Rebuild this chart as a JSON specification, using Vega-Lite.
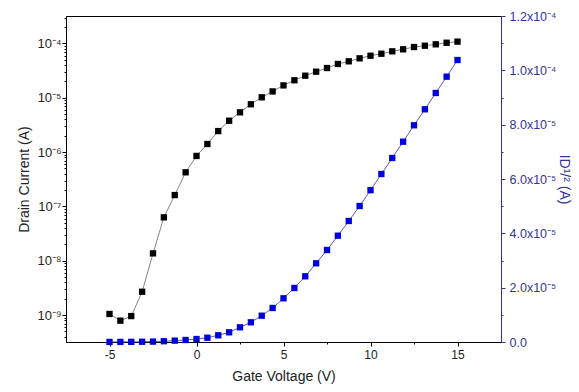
{
  "$schema": "https://vega.github.io/schema/vega-lite/v6.json",
  "width": 435,
  "height": 326,
  "autosize": {"type": "none"},
  "padding": {"left": 66, "top": 16, "right": 78, "bottom": 50},
  "background": "white",
  "config": {
    "view": {"stroke": "#000", "strokeWidth": 1},
    "font": "Liberation Sans",
    "axis": {"grid": false, "ticks": true, "tickWidth": 1, "labelFont": "Liberation Sans", "titleFont": "Liberation Sans", "titleFontWeight": "normal", "labelFontSize": 12, "titleFontSize": 14, "labelColor": "#222", "titleColor": "#222", "tickColor": "#000", "domainColor": "#000"}
  },
  "data": {"values": [
    {"V": -5, "Id": 1.05e-9, "Is": 2e-8},
    {"V": -4.375, "Id": 7.9e-10, "Is": 3e-8},
    {"V": -3.75, "Id": 9.6e-10, "Is": 5e-8},
    {"V": -3.125, "Id": 2.69e-9, "Is": 9e-8},
    {"V": -2.5, "Id": 1.37e-8, "Is": 1.5e-7},
    {"V": -1.875, "Id": 6.3e-8, "Is": 2.8e-7},
    {"V": -1.25, "Id": 1.62e-7, "Is": 5e-7},
    {"V": -0.625, "Id": 4.25e-7, "Is": 7.4e-7},
    {"V": 0, "Id": 8.5e-7, "Is": 1.1e-6},
    {"V": 0.625, "Id": 1.41e-6, "Is": 1.58e-6},
    {"V": 1.25, "Id": 2.44e-6, "Is": 2.47e-6},
    {"V": 1.875, "Id": 3.78e-6, "Is": 3.57e-6},
    {"V": 2.5, "Id": 5.4e-6, "Is": 5.41e-6},
    {"V": 3.125, "Id": 7.6e-6, "Is": 7.25e-6},
    {"V": 3.75, "Id": 1.02e-5, "Is": 9.68e-6},
    {"V": 4.375, "Id": 1.31e-5, "Is": 1.252e-5},
    {"V": 5, "Id": 1.69e-5, "Is": 1.609e-5},
    {"V": 5.625, "Id": 2.1e-5, "Is": 1.988e-5},
    {"V": 6.25, "Id": 2.55e-5, "Is": 2.418e-5},
    {"V": 6.875, "Id": 3.02e-5, "Is": 2.897e-5},
    {"V": 7.5, "Id": 3.53e-5, "Is": 3.387e-5},
    {"V": 8.125, "Id": 4.19e-5, "Is": 3.913e-5},
    {"V": 8.75, "Id": 4.69e-5, "Is": 4.454e-5},
    {"V": 9.375, "Id": 5.32e-5, "Is": 5.006e-5},
    {"V": 10, "Id": 5.94e-5, "Is": 5.588e-5},
    {"V": 10.625, "Id": 6.47e-5, "Is": 6.184e-5},
    {"V": 11.25, "Id": 7.16e-5, "Is": 6.773e-5},
    {"V": 11.875, "Id": 7.8e-5, "Is": 7.373e-5},
    {"V": 12.5, "Id": 8.59e-5, "Is": 7.977e-5},
    {"V": 13.125, "Id": 9.08e-5, "Is": 8.566e-5},
    {"V": 13.75, "Id": 9.64e-5, "Is": 9.166e-5},
    {"V": 14.375, "Id": 1.03e-4, "Is": 9.766e-5},
    {"V": 15, "Id": 1.08e-4, "Is": 1.038e-4}
  ]},
  "encoding": {
    "x": {
      "field": "V", "type": "quantitative",
      "scale": {"domain": [-7.5, 17.5], "nice": false, "zero": false},
      "axis": {
        "title": "Gate Voltage (V)",
        "values": [-5, -2.5, 0, 2.5, 5, 7.5, 10, 12.5, 15],
        "labelExpr": "datum.value % 5 == 0 ? datum.value + '' : ''",
        "tickSize": {"condition": {"test": "datum.value % 5 == 0", "value": 4}, "value": 2},
        "labelPadding": 3,
        "titlePadding": 9,
        "labelFlush": false
      }
    }
  },
  "layer": [
    {
      "layer": [
        {"mark": {"type": "line", "color": "#666", "strokeWidth": 0.8},
         "encoding": {"y": {"field": "Id", "type": "quantitative"}}},
        {"mark": {"type": "point", "shape": "square", "filled": true, "color": "#000", "opacity": 1, "size": 40},
         "encoding": {"y": {"field": "Id", "type": "quantitative"}}}
      ],
      "encoding": {
        "y": {
          "field": "Id", "type": "quantitative",
          "scale": {"type": "log", "domain": [3.2e-10, 3.2e-4], "nice": false},
          "axis": {
            "title": "Drain Current (A)",
            "titleFontSize": 14,
            "titlePadding": 5,
            "values": [4e-10, 5e-10, 6e-10, 7e-10, 8e-10, 9e-10, 1e-9, 2e-9, 3e-9, 4e-9, 5e-9, 6e-9, 7e-9, 8e-9, 9e-9, 1e-8, 2e-8, 3e-8, 4e-8, 5e-8, 6e-8, 7e-8, 8e-8, 9e-8, 1e-7, 2e-7, 3e-7, 4e-7, 5e-7, 6e-7, 7e-7, 8e-7, 9e-7, 1e-6, 2e-6, 3e-6, 4e-6, 5e-6, 6e-6, 7e-6, 8e-6, 9e-6, 1e-5, 2e-5, 3e-5, 4e-5, 5e-5, 6e-5, 7e-5, 8e-5, 9e-5, 1e-4, 2e-4, 3e-4],
            "labelExpr": "abs(log(datum.value)/LN10 - round(log(datum.value)/LN10)) < 0.001 ? '10' + (round(log(datum.value)/LN10) == -4 ? '⁻⁴' : round(log(datum.value)/LN10) == -5 ? '⁻⁵' : round(log(datum.value)/LN10) == -6 ? '⁻⁶' : round(log(datum.value)/LN10) == -7 ? '⁻⁷' : round(log(datum.value)/LN10) == -8 ? '⁻⁸' : '⁻⁹') : ''",
            "tickSize": {"condition": {"test": "abs(log(datum.value)/LN10 - round(log(datum.value)/LN10)) < 0.001", "value": 4}, "value": 2},
            "labelPadding": 1,
            "labelFontSize": 13,
            "labelFlush": false
          }
        }
      }
    },
    {
      "layer": [
        {"mark": {"type": "line", "color": "#333399", "strokeWidth": 0.8},
         "encoding": {"y": {"field": "Is", "type": "quantitative"}}},
        {"mark": {"type": "point", "shape": "square", "filled": true, "color": "#0000dd", "opacity": 1, "size": 40},
         "encoding": {"y": {"field": "Is", "type": "quantitative"}}}
      ],
      "encoding": {
        "y": {
          "field": "Is", "type": "quantitative",
          "scale": {"domain": [0, 0.00012], "nice": false, "zero": false},
          "axis": {
            "orient": "right",
            "title": "ID¹/² (A)",
            "titleAngle": 90,
            "titleColor": "#333399",
            "titleFontSize": 14,
            "titlePadding": 1,
            "values": [0, 1e-5, 2e-5, 3e-5, 4e-5, 5e-5, 6e-5, 7e-5, 8e-5, 9e-5, 1e-4, 1.1e-4, 1.2e-4],
            "labelExpr": "round(datum.value*1e5) % 2 == 1 ? '' : datum.value < 1e-11 ? '0.0' : datum.value < 9.5e-5 ? format(datum.value*1e5, '.1f') + 'x10⁻⁵' : format(datum.value*1e4, '.1f') + 'x10⁻⁴'",
            "labelColor": "#333399",
            "labelFontSize": 12.5,
            "domainColor": "#333399",
            "tickColor": "#333399",
            "tickSize": {"condition": {"test": "round(datum.value*1e5) % 2 == 0", "value": 4}, "value": 2},
            "labelPadding": 4,
            "labelFlush": false
          }
        }
      }
    }
  ],
  "resolve": {"scale": {"y": "independent"}}
}
